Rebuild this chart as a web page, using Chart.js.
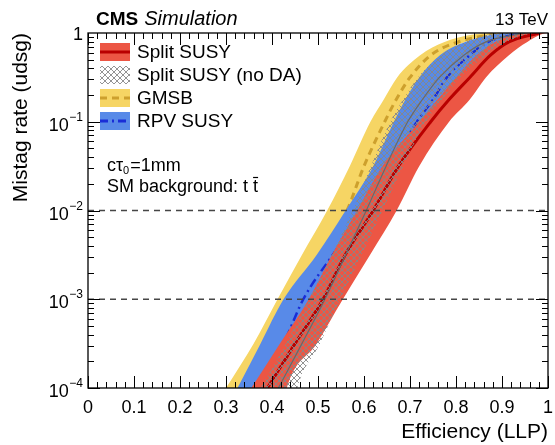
<!DOCTYPE html>
<html>
<head>
<meta charset="utf-8">
<script src="https://cdn.jsdelivr.net/npm/chart.js@4.4.1/dist/chart.umd.min.js"></script>
<style>
  body { margin: 0; background: #fff; }
</style>
</head>
<body>
<canvas id="rocChart" width="555" height="445"></canvas>
<script>
const mistagLevels = [1e-4, 3.16e-4, 1e-3, 3.16e-3, 1e-2, 3.16e-2, 0.1, 0.178, 0.316, 0.562, 0.794, 1];

const splitLo  = [0.355, 0.417, 0.48, 0.53, 0.585, 0.64, 0.72, 0.76, 0.80, 0.845, 0.885, 0.96];
const splitMid = [0.39, 0.45, 0.511, 0.559, 0.62, 0.675, 0.745, 0.785, 0.83, 0.875, 0.915, 0.98];
const splitHi  = [0.432, 0.497, 0.554, 0.613, 0.671, 0.72, 0.785, 0.83, 0.865, 0.915, 0.955, 1.0];

const noDaLo  = [0.375, 0.43, 0.48, 0.53, 0.575, 0.615, 0.657, 0.685, 0.717, 0.767, 0.82, 0.90];
const noDaMid = [0.414, 0.465, 0.515, 0.56, 0.605, 0.648, 0.695, 0.727, 0.764, 0.817, 0.865, 0.95];
const noDaHi  = [0.455, 0.504, 0.548, 0.595, 0.64, 0.685, 0.735, 0.77, 0.81, 0.865, 0.91, 0.98];

const gmsbLo  = [0.30, 0.36, 0.412, 0.465, 0.52, 0.569, 0.614, 0.643, 0.672, 0.722, 0.775, 0.88];
const gmsbMid = [0.345, 0.405, 0.46, 0.51, 0.563, 0.60, 0.645, 0.67, 0.70, 0.745, 0.805, 0.90];
const gmsbHi  = [0.39, 0.45, 0.51, 0.56, 0.61, 0.64, 0.68, 0.70, 0.73, 0.77, 0.82, 0.93];

const rpvLo  = [0.325, 0.375, 0.425, 0.497, 0.56, 0.62, 0.665, 0.69, 0.72, 0.765, 0.82, 0.92];
const rpvMid = [0.37, 0.425, 0.468, 0.532, 0.60, 0.66, 0.715, 0.75, 0.78, 0.83, 0.87, 0.95];
const rpvHi  = [0.39, 0.45, 0.51, 0.575, 0.645, 0.70, 0.755, 0.79, 0.82, 0.87, 0.91, 0.98];

const seriesNames = ['Split SUSY', 'Split SUSY (no DA)', 'GMSB', 'RPV SUSY'];
const guideLevels = [1e-2, 1e-3];
const yTickExponents = [0, -1, -2, -3, -4];

const FONT = "'Liberation Sans', Arial, Helvetica, sans-serif";
Chart.defaults.font.family = FONT;
Chart.defaults.color = '#000';

const canvas = document.getElementById('rocChart');
const ctx = canvas.getContext('2d');

// grey cross hatch for the "no DA" band
function makeHatch(bg) {
  const c = document.createElement('canvas');
  c.width = 6; c.height = 6;
  const g = c.getContext('2d');
  if (bg) { g.fillStyle = bg; g.fillRect(0, 0, 6, 6); }
  g.strokeStyle = 'rgba(135,135,135,0.9)';
  g.lineWidth = 1;
  g.beginPath();
  g.moveTo(0, 0); g.lineTo(6, 6);
  g.moveTo(6, 0); g.lineTo(0, 6);
  g.stroke();
  return ctx.createPattern(c, 'repeat');
}
const hatch = makeHatch(null);
const hatchLegend = makeHatch('#fff');

const colors = {
  splitFill: 'rgb(236,86,68)', splitLine: 'rgb(185,0,0)',
  gmsbFill: 'rgb(246,213,100)', gmsbLine: 'rgb(205,160,45)',
  rpvFill: 'rgb(88,138,232)', rpvLine: 'rgb(25,45,215)',
  noDaLine: 'rgb(105,105,105)'
};

function curve(xs) {
  return xs.map((x, i) => ({ x: x, y: mistagLevels[i] }));
}

// both edges need the same x span so the filler can close the band
function bandEdges(lo, hi) {
  const lower = curve(lo);
  const upper = curve(hi);
  upper.unshift({ x: lo[0], y: mistagLevels[0] / 100 });
  lower.push({ x: 1, y: 1 });
  upper.push({ x: 1, y: 1 });
  return [lower, upper];
}

const datasets = [];
function addLine(data, style) {
  datasets.push(Object.assign({
    data: data,
    pointRadius: 0,
    fill: false,
    borderColor: 'rgba(0,0,0,0)',
    borderWidth: 1,
    cubicInterpolationMode: 'monotone',
    order: datasets.length
  }, style));
  return datasets.length - 1;
}
function addBand(lo, hi, color) {
  const edges = bandEdges(lo, hi);
  const i = addLine(edges[0], {});
  addLine(edges[1], { fill: { target: i }, backgroundColor: color });
}

// pushed top layer first (lowest order is drawn last)
guideLevels.forEach(v => {
  addLine([{ x: 0, y: v }, { x: 1, y: v }], {
    borderColor: 'rgb(70,70,70)', borderWidth: 1.3, borderDash: [6, 5]
  });
});
addLine(curve(noDaMid), { borderColor: colors.noDaLine, borderWidth: 1.2 });
addBand(noDaLo, noDaHi, hatch);
addLine(curve(splitMid), { borderColor: colors.splitLine, borderWidth: 3 });
addBand(splitLo, splitHi, colors.splitFill);
addLine(curve(rpvMid), { borderColor: colors.rpvLine, borderWidth: 2.5, borderDash: [9, 4, 2, 4] });
addBand(rpvLo, rpvHi, colors.rpvFill);
addLine(curve(gmsbMid), { borderColor: colors.gmsbLine, borderWidth: 3, borderDash: [7, 5] });
addBand(gmsbLo, gmsbHi, colors.gmsbFill);

const legendItems = [
  { fill: colors.splitFill, line: colors.splitLine, dash: [] },
  { fill: hatchLegend, line: null, dash: [] },
  { fill: colors.gmsbFill, line: colors.gmsbLine, dash: [7, 5] },
  { fill: colors.rpvFill, line: colors.rpvLine, dash: [8, 4, 2, 4] }
];

// frame, inward ticks on all four sides, log labels, legend and texts
const decorations = {
  id: 'decorations',
  afterDatasetsDraw(chart) {
    const c = chart.ctx;
    const a = chart.chartArea;
    const x = chart.scales.x;
    const y = chart.scales.y;
    c.save();
    c.strokeStyle = '#000';
    c.lineWidth = 1;
    c.beginPath();
    for (let i = 0; i <= 50; i++) {
      const px = Math.round(x.getPixelForValue(i / 50)) + 0.5;
      const len = i % 5 === 0 ? 12 : 6;
      c.moveTo(px, a.bottom); c.lineTo(px, a.bottom - len);
      c.moveTo(px, a.top); c.lineTo(px, a.top + len);
    }
    for (let e = -4; e < 0; e++) {
      for (let m = 1; m < 10; m++) {
        const py = Math.round(y.getPixelForValue(m * Math.pow(10, e))) + 0.5;
        const len = m === 1 ? 12 : 6;
        c.moveTo(a.left, py); c.lineTo(a.left + len, py);
        c.moveTo(a.right, py); c.lineTo(a.right - len, py);
      }
    }
    c.stroke();
    c.lineWidth = 1.3;
    c.strokeRect(a.left, a.top, a.right - a.left, a.bottom - a.top);

    // y tick labels
    c.fillStyle = '#000';
    c.textAlign = 'right';
    c.textBaseline = 'alphabetic';
    yTickExponents.forEach(ex => {
      const py = y.getPixelForValue(Math.pow(10, ex));
      const right = 83;
      if (ex === 0) {
        c.font = '18px ' + FONT;
        c.fillText('1', right, py + 6.5);
      } else {
        c.font = '12px ' + FONT;
        const sup = '\u2212' + Math.abs(ex);
        const w = c.measureText(sup).width;
        c.fillText(sup, right, py - 1);
        c.font = '18px ' + FONT;
        c.fillText('10', right - w - 0.5, py + 9);
      }
    });

    // legend
    c.textAlign = 'left';
    c.textBaseline = 'middle';
    legendItems.forEach((it, i) => {
      const cy = 52 + i * 23;
      c.fillStyle = it.fill;
      c.fillRect(100, cy - 9, 30, 18);
      if (it.line) {
        c.strokeStyle = it.line;
        c.lineWidth = 3;
        c.setLineDash(it.dash);
        c.beginPath();
        c.moveTo(100, cy); c.lineTo(130, cy);
        c.stroke();
        c.setLineDash([]);
      }
      c.fillStyle = '#000';
      c.font = '19px ' + FONT;
      c.fillText(seriesNames[i], 137, cy + 1);
    });

    // header
    c.textBaseline = 'alphabetic';
    c.font = 'bold 19px ' + FONT;
    c.fillText('CMS', 96, 25);
    const cmsW = c.measureText('CMS').width;
    c.font = 'italic 20px ' + FONT;
    c.fillText('Simulation', 96 + cmsW + 6, 25);
    c.textAlign = 'right';
    c.font = '17px ' + FONT;
    c.fillText('13 TeV', 548, 25);

    // annotations
    c.textAlign = 'left';
    c.font = '18px ' + FONT;
    let tx = 107;
    c.fillText('c\u03c4', tx, 171);
    tx += c.measureText('c\u03c4').width;
    c.font = '11px ' + FONT;
    c.fillText('0', tx, 174);
    tx += c.measureText('0').width + 1;
    c.font = '18px ' + FONT;
    c.fillText('=1mm', tx, 171);

    const sm = 'SM background: t ';
    c.fillText(sm + 't', 107, 192);
    const tbx = 107 + c.measureText(sm).width;
    const tw = c.measureText('t').width;
    c.lineWidth = 1.2;
    c.strokeStyle = '#000';
    c.beginPath();
    c.moveTo(tbx, 177.5); c.lineTo(tbx + tw, 177.5);
    c.stroke();
    c.restore();
  }
};

new Chart(canvas, {
  type: 'line',
  data: { datasets: datasets },
  options: {
    responsive: false,
    animation: false,
    layout: { padding: { left: 0, right: 7, top: 33, bottom: 0 } },
    plugins: {
      legend: { display: false },
      tooltip: { enabled: false }
    },
    scales: {
      x: {
        type: 'linear',
        min: 0,
        max: 1,
        grid: { display: false },
        border: { display: false },
        ticks: {
          stepSize: 0.1,
          autoSkip: false,
          maxRotation: 0,
          padding: 1,
          color: '#000',
          font: { size: 18 },
          callback: v => String(Math.round(v * 10) / 10)
        },
        title: {
          display: true,
          text: 'Efficiency (LLP)',
          align: 'end',
          color: '#000',
          font: { size: 21 },
          padding: { top: 0, bottom: 0 }
        },
        afterFit: s => { s.height = 57; }
      },
      y: {
        type: 'logarithmic',
        min: 1e-4,
        max: 1,
        grid: { display: false },
        border: { display: false },
        ticks: { display: false },
        title: {
          display: true,
          text: 'Mistag rate (udsg)',
          align: 'end',
          color: '#000',
          font: { size: 21 },
          padding: { top: 9, bottom: 0 }
        },
        afterFit: s => { s.width = 88; }
      }
    }
  },
  plugins: [decorations]
});
</script>
</body>
</html>
